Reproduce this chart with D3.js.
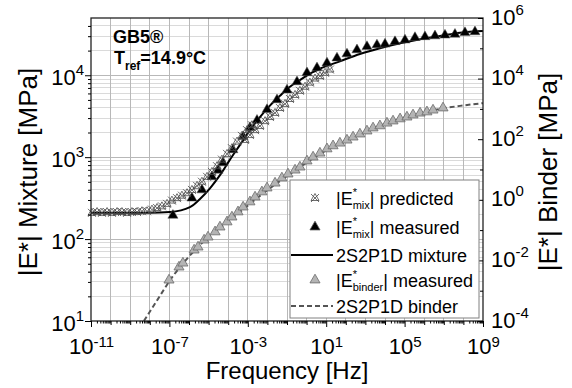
<!DOCTYPE html>
<html>
<head>
<meta charset="utf-8">
<script src="https://cdn.jsdelivr.net/npm/d3@7"></script>
<style>
  body { margin: 0; background: #fff; }
  svg text { font-family: "Liberation Sans", Arial, sans-serif; fill: #000; }
</style>
</head>
<body>
<div id="chart"></div>
<script>
// all values, stored as [log10 frequency, log10 modulus]

// |E*mix| predicted (crosses)
const mixPredicted = [
  [-10.95, 2.32], [-10.69, 2.33], [-10.44, 2.32], [-10.18, 2.33], [-9.93, 2.32], [-9.67, 2.33],
  [-9.42, 2.33], [-9.16, 2.32], [-8.91, 2.33], [-8.65, 2.33], [-8.40, 2.34], [-8.14, 2.34],
  [-7.89, 2.36], [-7.63, 2.38], [-7.38, 2.40], [-7.12, 2.43], [-6.87, 2.47], [-6.61, 2.50],
  [-6.36, 2.53], [-6.10, 2.56], [-5.85, 2.60], [-5.59, 2.65], [-5.34, 2.70], [-5.08, 2.76],
  [-4.83, 2.82], [-4.57, 2.89], [-4.32, 2.97], [-4.06, 3.04], [-3.81, 3.11], [-3.55, 3.19],
  [-3.30, 3.26], [-3.04, 3.33], [-2.79, 3.39],
  [-3.14, 3.21], [-2.89, 3.27], [-2.63, 3.33], [-2.38, 3.38], [-2.12, 3.44], [-1.87, 3.49],
  [-1.61, 3.54], [-1.36, 3.60], [-1.10, 3.65], [-0.85, 3.71], [-0.59, 3.76], [-0.34, 3.81],
  [-0.08, 3.86], [0.17, 3.91], [0.43, 3.96], [0.68, 3.99], [0.94, 4.03], [1.19, 4.07]
];

// |E*mix| measured (black triangles)
const mixMeasured = [
  [-6.82, 2.29], [-5.85, 2.50], [-5.34, 2.60], [-4.83, 2.76], [-4.52, 2.84], [-4.27, 2.93],
  [-3.76, 3.09], [-3.24, 3.25], [-2.89, 3.36], [-2.53, 3.45], [-2.02, 3.58], [-1.51, 3.70],
  [-1.00, 3.82], [-0.49, 3.92], [0.02, 4.03], [0.53, 4.09], [1.04, 4.15], [1.55, 4.21],
  [2.06, 4.26], [2.57, 4.31], [3.08, 4.35], [3.59, 4.37], [4.00, 4.38], [4.51, 4.41],
  [5.02, 4.43], [5.53, 4.46], [6.04, 4.47], [6.55, 4.48], [7.06, 4.49], [7.57, 4.50],
  [8.08, 4.52], [8.59, 4.53]
];

// 2S2P1D mixture fit (solid line)
const mixModel = [
  [-11, 2.32], [-8, 2.32], [-6.97, 2.33], [-5.95, 2.39], [-5.44, 2.49], [-4.93, 2.62],
  [-4.42, 2.78], [-3.91, 2.97], [-3.40, 3.15], [-2.89, 3.33], [-2.38, 3.49], [-1.87, 3.63],
  [-1.36, 3.75], [-0.85, 3.86], [-0.34, 3.94], [0.17, 4.02], [0.68, 4.08], [1.70, 4.17],
  [2.72, 4.26], [3.74, 4.33], [4.77, 4.39], [5.79, 4.44], [6.81, 4.48], [7.83, 4.52], [9, 4.54]
];

// |E*binder| measured (grey triangles, right axis)
const binderMeasured = [
  [-7.02, -2.65], [-6.51, -2.22], [-6.31, -2.09], [-5.74, -1.66], [-5.54, -1.56], [-5.23, -1.33],
  [-5.03, -1.23], [-4.67, -1.06], [-4.42, -0.90], [-4.06, -0.73], [-3.81, -0.57], [-3.50, -0.40],
  [-3.24, -0.24], [-2.89, -0.07], [-2.63, 0.09], [-2.28, 0.26], [-2.02, 0.39], [-1.61, 0.55],
  [-1.26, 0.72], [-0.95, 0.85], [-0.59, 0.98], [-0.34, 1.08], [0.02, 1.28], [0.33, 1.41],
  [0.68, 1.54], [1.04, 1.68], [1.35, 1.78], [1.70, 1.87], [2.06, 1.97], [2.37, 2.07],
  [2.72, 2.17], [3.08, 2.27], [3.39, 2.37], [3.74, 2.44], [4.10, 2.53], [4.41, 2.60],
  [4.77, 2.67], [5.12, 2.73], [5.43, 2.80], [5.79, 2.86], [6.14, 2.90], [6.45, 2.96], [6.96, 3.03]
];

// 2S2P1D binder fit (dashed line, right axis)
const binderModel = [
  [-8.30, -4.00], [-7.58, -3.27], [-6.92, -2.61], [-6.20, -2.02], [-5.44, -1.49], [-4.42, -0.93],
  [-3.40, -0.40], [-2.38, 0.13], [-1.36, 0.62], [-0.34, 1.08], [0.68, 1.51], [1.70, 1.87],
  [2.72, 2.17], [3.74, 2.44], [4.77, 2.67], [5.79, 2.86], [6.81, 3.00], [7.83, 3.10], [9, 3.19]
];

// tick labels (exponents)
const xLabelExps = [-11, -7, -3, 1, 5, 9];
const yLeftExps = [1, 2, 3, 4];
const yRightExps = [-4, -2, 0, 2, 4, 6];

const W = 572, H = 388;
const plot = { left: 91, right: 483, top: 18, bottom: 321 };

const svg = d3.select("#chart").append("svg")
    .attr("width", W)
    .attr("height", H);

svg.append("rect").attr("width", W).attr("height", H).attr("fill", "#fff");

const x = d3.scaleLog().domain([1e-11, 1e9]).range([plot.left, plot.right]);
const yL = d3.scaleLog().domain([10, 5e4]).range([plot.bottom, plot.top]);
const yR = d3.scaleLog().domain([1e-4, 1e6]).range([plot.bottom, plot.top]);

const px = d => x(10 ** d[0]);
const pyL = d => yL(10 ** d[1]);
const pyR = d => yR(10 ** d[1]);

// ---- grid ----
const grid = svg.append("g").attr("shape-rendering", "crispEdges");

const hMinor = [];
for (let e = 1; e <= 4; e++) {
    for (let k = 2; k <= 9; k++) {
        if (k * 10 ** e < 5e4) hMinor.push(k * 10 ** e);
    }
}
grid.selectAll("line.hminor")
    .data(hMinor)
    .enter().append("line")
    .attr("x1", plot.left).attr("x2", plot.right)
    .attr("y1", d => yL(d)).attr("y2", d => yL(d))
    .attr("stroke", "#dadada");

grid.selectAll("line.hmajor")
    .data([100, 1000, 10000])
    .enter().append("line")
    .attr("x1", plot.left).attr("x2", plot.right)
    .attr("y1", d => yL(d)).attr("y2", d => yL(d))
    .attr("stroke", "#b8b8b8");

grid.selectAll("line.v")
    .data(d3.range(-10, 9))
    .enter().append("line")
    .attr("x1", e => x(10 ** e)).attr("x2", e => x(10 ** e))
    .attr("y1", plot.top).attr("y2", plot.bottom)
    .attr("stroke", "#b8b8b8");

// ---- lines ----
const lineL = d3.line().x(px).y(pyL).curve(d3.curveMonotoneX);
const lineR = d3.line().x(px).y(pyR).curve(d3.curveMonotoneX);

svg.append("path")
    .datum(binderModel)
    .attr("d", lineR)
    .attr("fill", "none")
    .attr("stroke", "#555")
    .attr("stroke-width", 2)
    .attr("stroke-dasharray", "5,3");

svg.append("path")
    .datum(mixModel)
    .attr("d", lineL)
    .attr("fill", "none")
    .attr("stroke", "#000")
    .attr("stroke-width", 2);

// ---- points ----
const tri = d3.symbol().type(d3.symbolTriangle).size(44);
const predShape = "M-4,-4L4,4M-4,4L4,-4M0,-4.5L4,2.5L-4,2.5Z";

svg.append("g").selectAll("path")
    .data(binderMeasured)
    .enter().append("path")
    .attr("d", tri)
    .attr("transform", d => `translate(${px(d)},${pyR(d)})`)
    .attr("fill", "#b4b4b4")
    .attr("stroke", "#6a6a6a")
    .attr("stroke-width", 0.8);

svg.append("g").selectAll("path")
    .data(mixMeasured)
    .enter().append("path")
    .attr("d", tri)
    .attr("transform", d => `translate(${px(d)},${pyL(d)})`)
    .attr("fill", "#000")
    .attr("stroke", "#555")
    .attr("stroke-width", 0.5);

svg.append("g").selectAll("path")
    .data(mixPredicted)
    .enter().append("path")
    .attr("d", predShape)
    .attr("transform", d => `translate(${px(d)},${pyL(d)})`)
    .attr("fill", "none")
    .attr("stroke", "#4a4a4a")
    .attr("stroke-width", 0.8);

// ---- frame ----
svg.append("rect")
    .attr("x", plot.left).attr("y", plot.top)
    .attr("width", plot.right - plot.left)
    .attr("height", plot.bottom - plot.top)
    .attr("fill", "none")
    .attr("stroke", "#222")
    .attr("stroke-width", 1.3);

// ---- axes ----
function addAxis(gen, tx, ty, values, size) {
    const g = svg.append("g")
        .attr("transform", `translate(${tx},${ty})`)
        .call(gen.tickValues(values).tickSize(size).tickSizeOuter(0).tickFormat(() => ""));
    g.select(".domain").remove();
    g.attr("font-family", null).attr("font-size", null);
    g.selectAll(".tick text").remove();
    g.selectAll(".tick line").attr("stroke", "#000").attr("stroke-width", 1);
    return g;
}

function powLabel(sel, tx, ty, anchor, supDy) {
    const t = sel.append("text")
        .attr("x", tx).attr("y", ty)
        .attr("text-anchor", anchor)
        .style("font-size", "22px");
    t.append("tspan").text("10");
    t.append("tspan")
        .attr("dy", supDy)
        .style("font-size", "15px")
        .text(d => Math.round(Math.log10(d)));
}

// bottom
const xMinor = [], xDecade = [];
for (let e = -11; e < 9; e++) {
    if (e > -11 && !xLabelExps.includes(e)) xDecade.push(10 ** e);
    for (let k = 2; k <= 9; k++) xMinor.push(k * 10 ** e);
}
addAxis(d3.axisBottom(x), 0, plot.bottom, xMinor, 2.5);
addAxis(d3.axisBottom(x), 0, plot.bottom, xDecade, 4);
const xAx = addAxis(d3.axisBottom(x), 0, plot.bottom, xLabelExps.map(e => 10 ** e), 6);
powLabel(xAx.selectAll(".tick"), 0, 33, "middle", -7);

// left
addAxis(d3.axisLeft(yL), plot.left, 0, hMinor, 3);
const yLAx = addAxis(d3.axisLeft(yL), plot.left, 0, yLeftExps.map(e => 10 ** e), 6);
powLabel(yLAx.selectAll(".tick"), -7, 9, "end", -10);

// right
const yRMinor = d3.range(-3, 6, 2).map(e => 10 ** e);
addAxis(d3.axisRight(yR), plot.right, 0, yRMinor, -3);
const yRAx = addAxis(d3.axisRight(yR), plot.right, 0, yRightExps.map(e => 10 ** e), -5);
powLabel(yRAx.selectAll(".tick"), 8, 6, "start", -10);

// ---- axis titles ----
svg.append("text")
    .attr("x", (plot.left + plot.right) / 2)
    .attr("y", 379)
    .attr("text-anchor", "middle")
    .style("font-size", "24px")
    .text("Frequency [Hz]");

svg.append("text")
    .attr("transform", "translate(37,172) rotate(-90)")
    .attr("text-anchor", "middle")
    .style("font-size", "26px")
    .text("|E*| Mixture [MPa]");

svg.append("text")
    .attr("transform", "translate(557,172) rotate(-90)")
    .attr("text-anchor", "middle")
    .style("font-size", "26px")
    .text("|E*| Binder [MPa]");

// ---- annotation ----
svg.append("text")
    .attr("x", 113).attr("y", 43)
    .style("font-size", "18px").style("font-weight", "bold")
    .text("GB5®");

const tref = svg.append("text")
    .attr("x", 114).attr("y", 64)
    .style("font-size", "18px").style("font-weight", "bold");
tref.append("tspan").text("T");
tref.append("tspan").attr("dy", 6).style("font-size", "12px").text("ref");
tref.append("tspan").attr("dy", -6).text("=14.9°C");

// ---- legend ----
const legend = svg.append("g");
legend.append("rect")
    .attr("x", 290).attr("y", 180)
    .attr("width", 189).attr("height", 138)
    .attr("fill", "#fff")
    .attr("stroke", "#808080")
    .attr("stroke-width", 1);

const legendRows = [
    { y: 198, kind: "pred", sub: "mix", rest: "| predicted" },
    { y: 227, kind: "mixTri", sub: "mix", rest: "| measured" },
    { y: 255, kind: "solid", label: "2S2P1D mixture" },
    { y: 280, kind: "binTri", sub: "binder", rest: "| measured" },
    { y: 306, kind: "dashed", label: "2S2P1D binder" }
];

legendRows.forEach(r => {
    if (r.kind === "pred") {
        legend.append("path").attr("d", predShape)
            .attr("transform", `translate(315,${r.y})`)
            .attr("fill", "none").attr("stroke", "#4a4a4a").attr("stroke-width", 0.8);
    } else if (r.kind === "mixTri" || r.kind === "binTri") {
        legend.append("path").attr("d", tri)
            .attr("transform", `translate(315,${r.y})`)
            .attr("fill", r.kind === "mixTri" ? "#000" : "#b4b4b4")
            .attr("stroke", r.kind === "mixTri" ? "#555" : "#6a6a6a")
            .attr("stroke-width", 0.8);
    } else {
        legend.append("line")
            .attr("x1", 291).attr("x2", 333)
            .attr("y1", r.y).attr("y2", r.y)
            .attr("stroke", r.kind === "solid" ? "#000" : "#555")
            .attr("stroke-width", 2)
            .attr("stroke-dasharray", r.kind === "dashed" ? "5,3" : null);
    }

    const t = legend.append("text")
        .attr("x", 336).attr("y", r.y + 7)
        .style("font-size", "18px");
    if (r.label) {
        t.text(r.label);
    } else {
        t.append("tspan").text("|E");
        t.append("tspan").attr("dy", -9).style("font-size", "11px").text("*");
        t.append("tspan").attr("dx", -4.3).attr("dy", 13).style("font-size", "11px").text(r.sub);
        t.append("tspan").attr("dy", -4).text(r.rest);
    }
});
</script>
</body>
</html>
